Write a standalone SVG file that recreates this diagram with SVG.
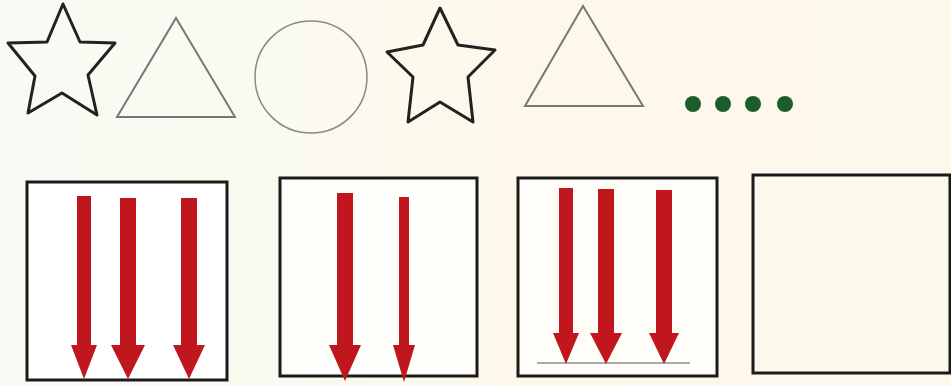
<svg xmlns="http://www.w3.org/2000/svg" width="951" height="386" viewBox="0 0 951 386">
  <defs>
    <linearGradient id="bg" x1="0" y1="0" x2="1" y2="0">
      <stop offset="0" stop-color="#f9faf4"/>
      <stop offset="0.3" stop-color="#fbfaf0"/>
      <stop offset="0.55" stop-color="#fdf8ea"/>
      <stop offset="1" stop-color="#fdf8ec"/>
    </linearGradient>
  </defs>
  <style>
    .star { fill: none; stroke: #222; stroke-width: 3; stroke-linejoin: round; }
    .tri { fill: none; stroke: #777; stroke-width: 2; }
    .circ { fill: none; stroke: #888; stroke-width: 1.5; }
    .dot { fill: #1b5e2b; }
    .box { stroke: #1a1a1a; stroke-width: 3; }
    .arrow { fill: #c0161e; }
    .base { stroke: #aaa; stroke-width: 2; }
  </style>
  <rect x="0" y="0" width="951" height="386" fill="url(#bg)"/>

  <g id="star1"><polygon class="star" points="63,4 80,42 115,43 88,75 97,115 62,93 28,113 35,76 8,43 47,42"/></g>
  <g id="triangle1"><polygon class="tri" points="176,18 235,117 117,117"/></g>
  <g id="circle1"><circle class="circ" cx="311" cy="77" r="56"/></g>
  <g id="star2"><polygon class="star" points="440,8 458,45 495,50 468,77 473,122 440,102 408,122 413,77 387,52 423,45"/></g>
  <g id="triangle2"><polygon class="tri" points="583,6 643,106 525,106"/></g>
  <g id="dots">
    <circle class="dot" cx="693" cy="104" r="8"/>
    <circle class="dot" cx="723" cy="104" r="8"/>
    <circle class="dot" cx="753" cy="104" r="8"/>
    <circle class="dot" cx="785" cy="104" r="8"/>
  </g>

  <g id="box1"><rect class="box" x="27" y="182" width="200" height="198" fill="#ffffff"/></g>
  <g id="box2"><rect class="box" x="280" y="178" width="197" height="198" fill="#fefefb"/></g>
  <g id="box3"><rect class="box" x="518" y="178" width="199" height="198" fill="#fefdf8"/>
    <line class="base" x1="537" y1="363" x2="690" y2="363"/>
  </g>
  <g id="box4"><rect class="box" x="753" y="175" width="197" height="198" fill="#fdf8ec"/></g>

  <g id="arrows">
    <polygon class="arrow" points="77,196 91,196 91,345 97,345 84,379 71,345 77,345"/>
    <polygon class="arrow" points="120,198 136,198 136,345 145,345 128,379 111,345 120,345"/>
    <polygon class="arrow" points="181,198 197,198 197,345 205,345 189,379 173,345 181,345"/>
    <polygon class="arrow" points="337,193 353,193 353,345 361,345 345,381 329,345 337,345"/>
    <polygon class="arrow" points="399,197 409,197 409,345 415,345 404,382 393,345 399,345"/>
    <polygon class="arrow" points="559,188 573,188 573,333 579,333 566,364 553,333 559,333"/>
    <polygon class="arrow" points="598,189 614,189 614,333 622,333 606,364 590,333 598,333"/>
    <polygon class="arrow" points="656,190 672,190 672,333 679,333 664,364 649,333 656,333"/>
  </g>
</svg>
